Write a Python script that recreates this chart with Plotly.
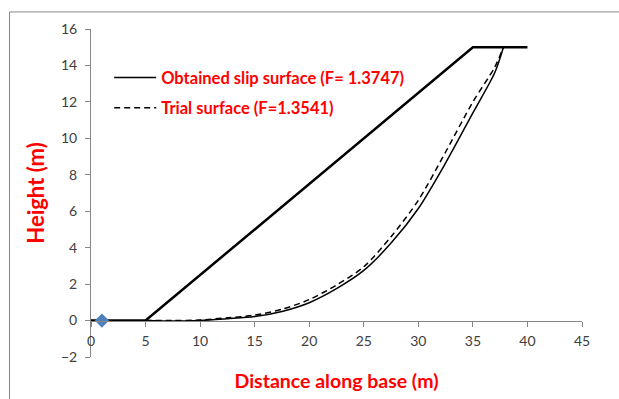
import plotly.graph_objects as go

# Slope geometry
slope_x = [0, 5, 35, 40]
slope_y = [0, 0, 15, 15]

# Obtained slip surface (F = 1.3747)
slip_x = [5, 7.5, 10, 12.5, 15, 17.5, 20, 22.5, 25, 27.5, 30, 32.5, 35, 37, 37.8]
slip_y = [0, -0.03, 0.0, 0.1, 0.22, 0.5, 0.98, 1.75, 2.75, 4.25, 6.15, 8.65, 11.4, 13.6, 15]

# Trial surface (F = 1.3541)
trial_x = [5, 7.5, 10, 12.5, 15, 17.5, 20, 22.5, 25, 27.5, 30, 32.5, 35, 37, 37.8]
trial_y = [0, 0.0, 0.03, 0.15, 0.3, 0.62, 1.15, 1.95, 2.95, 4.6, 6.6, 9.25, 12.0, 13.9, 15]

# Point marker
pt_x = [1]
pt_y = [0]

legend_names = ["Obtained slip surface (F= 1.3747)", "Trial surface (F=1.3541)"]

FONT = "Lato, 'Open Sans', sans-serif"
RED = "#FF0000"
AX = "#868686"

fig = go.Figure()
fig.add_trace(go.Scatter(x=slope_x, y=slope_y, mode="lines",
                         line=dict(color="black", width=2.5), showlegend=False))
fig.add_trace(go.Scatter(x=slip_x, y=slip_y, mode="lines", name=legend_names[0],
                         line=dict(color="black", width=1.5, shape="spline", smoothing=0.8),
                         legendgroup="a"))
fig.add_trace(go.Scatter(x=trial_x, y=trial_y, mode="lines", name=legend_names[1],
                         line=dict(color="black", width=1.5, dash="6px,4px", shape="spline", smoothing=0.8),
                         legendgroup="b"))
fig.add_trace(go.Scatter(x=pt_x, y=pt_y, mode="markers",
                         marker=dict(symbol="diamond", size=11, color="#4F81BD"),
                         showlegend=False))

fig.update_layout(
    width=619, height=399,
    margin=dict(l=90.5, r=37, t=29, b=41.5, autoexpand=False),
    paper_bgcolor="white", plot_bgcolor="white",
    font=dict(family=FONT, size=14, color="#404040"),
    legend=dict(x=0.037, y=0.905, xanchor="left", yanchor="top",
                font=dict(family=FONT, size=16.5, color=RED, weight="bold"),
                bgcolor="rgba(0,0,0,0)", traceorder="grouped", tracegroupgap=6,
                itemwidth=42),
    xaxis=dict(range=[0, 45], dtick=5, tick0=0, showgrid=False, zeroline=False,
               showline=True, linecolor=AX, linewidth=1, ticks="outside",
               ticklen=5, tickcolor=AX, anchor="free", position=0.111,
               ticklabelstandoff=3, automargin=False,
               tickfont=dict(family=FONT, size=14, color="#404040"),
               title=dict(text="Distance along base (m)", standoff=25,
                          font=dict(family=FONT, size=19.5, color=RED, weight="bold"))),
    yaxis=dict(range=[-2, 16], dtick=2, tick0=0, showgrid=False, zeroline=False,
               showline=True, linecolor=AX, linewidth=1, ticks="outside",
               ticklen=5, tickcolor=AX, ticklabelstandoff=5, automargin=False,
               tickfont=dict(family=FONT, size=14, color="#404040"),
               title=dict(text="Height (m)", standoff=10,
                          font=dict(family=FONT, size=22, color=RED, weight="bold"))),
    shapes=[dict(type="rect", xref="paper", yref="paper",
                 x0=-0.166, x1=1.2, y0=-0.3, y1=1.052,
                 line=dict(color=AX, width=1), fillcolor="rgba(0,0,0,0)", layer="below")],
)

fig.write_html("out.html", config={"displayModeBar": False},
               post_script="document.body.style.margin='0';")
